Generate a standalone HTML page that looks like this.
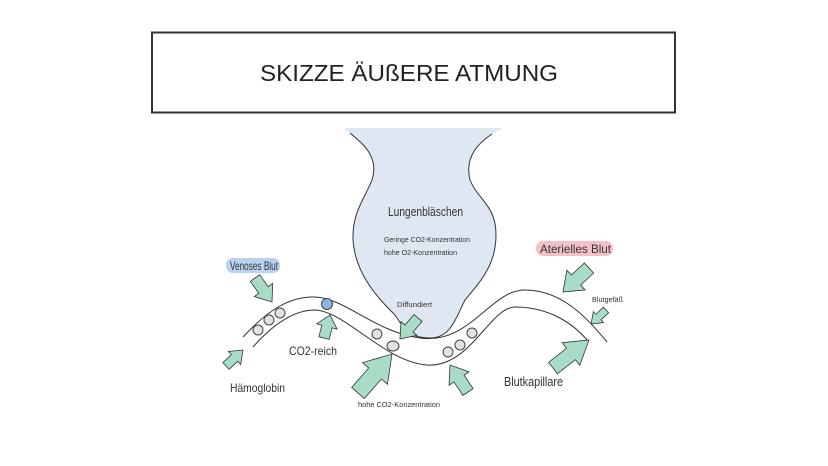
<!DOCTYPE html>
<html><head><meta charset="utf-8"><style>
html,body{margin:0;padding:0;background:#fff;}
svg{display:block;}
text{font-family:"Liberation Sans",sans-serif;fill:#333;}
</style></head><body>
<svg id="s" width="828" height="466" viewBox="0 0 828 466" xmlns="http://www.w3.org/2000/svg">
<rect x="152" y="32.5" width="523" height="80" fill="#fff" stroke="#333" stroke-width="2"/>
<text x="260" y="81" font-size="23" textLength="298" lengthAdjust="spacingAndGlyphs" style="fill:#222">SKIZZE ÄUßERE ATMUNG</text>
<path d="M344,128 L350,133 C360,142 380,155 372,180 C365,198 352,212 353,240 C355,275 380,300 395,315 C405,330 410,338 430,338 C450,338 455,320 465,300 C480,282 496,265 496,235 C496,205 478,200 470,180 C465,160 475,145 492,134 L503,128 Z" fill="#dfe7f2" stroke="none"/>
<path d="M350,133 C360,142 380,155 372,180 C365,198 352,212 353,240 C355,275 380,300 395,315 C405,330 410,338 430,338 C450,338 455,320 465,300 C480,282 496,265 496,235 C496,205 478,200 470,180 C465,160 475,145 492,134" fill="none" stroke="#333" stroke-width="1"/>
<g fill="none" stroke="#333" stroke-width="1">
<path d="M243,337 C268,310 290,296 315,297 C345,298 375,332 420,338 C470,345 490,290 525,290 C560,290 585,315 607,342"/>
<path d="M253,347 C275,322 295,310 315,310 C345,311 385,362 427,365 C470,368 490,307 515,307 C545,307 570,320 587,340"/>
</g>
<g fill="#e2e2e2" stroke="#444" stroke-width="1">
<circle cx="258" cy="330" r="5"/><circle cx="269" cy="320" r="5"/><circle cx="280" cy="313" r="5"/>
<circle cx="327" cy="304" r="5.5" fill="#8fb4e0"/>
<circle cx="377" cy="334" r="5"/><ellipse cx="393" cy="346" rx="6" ry="5"/>
<circle cx="448" cy="352" r="5"/><circle cx="460" cy="345" r="5"/><circle cx="472" cy="333" r="5"/>
</g>
<g id="arrows" fill="#a9dcc6" stroke="#333" stroke-width="0.8"></g>
<rect x="226" y="258" width="54" height="15" rx="7" fill="#b7d3ee"/>
<rect x="536" y="241" width="77" height="15" rx="7" fill="#f4c2c6"/>
<text x="230" y="270" font-size="12" textLength="48" lengthAdjust="spacingAndGlyphs">Venoses Blut</text>
<text x="540" y="253" font-size="12" textLength="71" lengthAdjust="spacingAndGlyphs">Aterielles Blut</text>
<text x="388" y="216" font-size="13" textLength="75" lengthAdjust="spacingAndGlyphs">Lungenbläschen</text>
<text x="384" y="242" font-size="7.5" textLength="86" lengthAdjust="spacingAndGlyphs">Geringe CO2-Konzentration</text>
<text x="384" y="255" font-size="7.5" textLength="73" lengthAdjust="spacingAndGlyphs">hohe O2-Konzentration</text>
<text x="397" y="307" font-size="7" textLength="35" lengthAdjust="spacingAndGlyphs">Diffundiert</text>
<text x="592" y="302" font-size="7" textLength="31" lengthAdjust="spacingAndGlyphs">Blutgefäß</text>
<text x="289" y="355" font-size="12" textLength="48" lengthAdjust="spacingAndGlyphs">CO2-reich</text>
<text x="230" y="392" font-size="12" textLength="55" lengthAdjust="spacingAndGlyphs">Hämoglobin</text>
<text x="358" y="407" font-size="7.5" textLength="82" lengthAdjust="spacingAndGlyphs">hohe CO2-Konzentration</text>
<text x="504" y="386" font-size="13" textLength="59" lengthAdjust="spacingAndGlyphs">Blutkapillare</text>
</svg>
<script>
var A=[[255,278,272,302,15],[324,338,330,315,14],[226,366,243,350,12],[418,318,400,339,14],[358,393,392,354,22],[468,392,450,365,16],[589,268,563,292,18],[606,310,591,324,10],[553,368,589,340,19]];
var g=document.getElementById('arrows'),h='';
A.forEach(function(a){var dx=a[2]-a[0],dy=a[3]-a[1],L=Math.sqrt(dx*dx+dy*dy),w=a[4],ang=Math.atan2(dy,dx)*180/Math.PI;
var hl=L*0.5,sw=w*0.38,hw=w*0.75;
var p=[[0,-sw],[L-hl,-sw],[L-hl,-hw],[L,0],[L-hl,hw],[L-hl,sw],[0,sw]].map(function(q){return q[0].toFixed(1)+','+q[1].toFixed(1)}).join(' ');
h+='<polygon points="'+p+'" transform="translate('+a[0]+','+a[1]+') rotate('+ang.toFixed(1)+')"/>';});
g.innerHTML=h;
</script>
</body></html>
